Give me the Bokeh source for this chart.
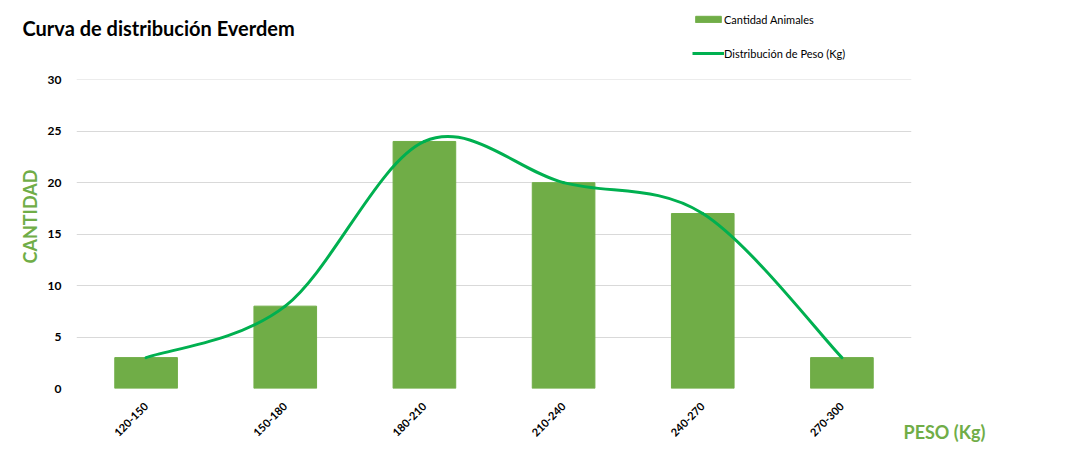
import math
from bokeh.plotting import figure
from bokeh.layouts import column
from bokeh.models import (FactorRange, Range1d, FixedTicker, Title, Legend, LegendItem, Label,
                          ColumnDataSource)
from bokeh.embed import file_html
from bokeh.resources import INLINE

categories = ["120-150", "150-180", "180-210", "210-240", "240-270", "270-300"]
cantidad = [3, 8, 24, 20, 17, 3]
y_ticks = [0, 5, 10, 15, 20, 25, 30]

title_text = "Curva de distribución Everdem"
bar_label = "Cantidad Animales"
line_label = "Distribución de Peso (Kg)"
y_label = "CANTIDAD"
x_label = "PESO (Kg)"

BAR_COLOR = "#70AD47"
LINE_COLOR = "#00B050"
FONT = "Lato"

W = 1078
TOP_H = 69          # header strip (title + legend)
FL, FW, FH = 76, 835, 309
BOT_H = 396
YMAX = 30.02

# ---------------- header: title and legend ----------------
head = figure(x_range=FactorRange(*categories), y_range=Range1d(100, 101),
              width=W, height=TOP_H, output_backend="svg", toolbar_location=None,
              x_axis_location=None, y_axis_location=None, title=None,
              min_border=0)
head.outline_line_color = None
head.grid.visible = False
head.background_fill_color = "white"
head.border_fill_color = "white"
hb = head.vbar(x=categories, top=cantidad, width=0.45, color=BAR_COLOR)
hl = head.line(x=categories, y=cantidad, line_color=LINE_COLOR, line_width=3)

# ---------------- main chart ----------------
p = figure(x_range=FactorRange(*categories, range_padding=0), y_range=Range1d(0, YMAX),
           width=W, height=BOT_H, output_backend="svg", toolbar_location=None, title=None,
           min_border_left=FL, min_border_right=W - FL - FW, min_border_top=10,
           min_border_bottom=BOT_H - 10 - FH)

try:
    head.frame_align = False
    p.frame_align = False
    HEAD_X0 = 0
except Exception:
    HEAD_X0 = FL

head.add_layout(Label(x=22 - HEAD_X0, y=TOP_H - 36 + 9, x_units="screen", y_units="screen",
                      text=title_text,
                      text_font=FONT, text_font_style="bold", text_font_size="20px",
                      text_color="#000000", text_align="left", text_baseline="alphabetic"))
legend = Legend(items=[LegendItem(label=bar_label, renderers=[hb]),
                       LegendItem(label=line_label, renderers=[hl])],
                location=(692 - HEAD_X0, TOP_H - 60), orientation="vertical",
                glyph_width=32, glyph_height=8, label_height=14, spacing=20,
                padding=0, margin=0, label_standoff=0,
                label_text_font=FONT, label_text_font_size="11px", label_text_color="#000000",
                border_line_color=None, background_fill_alpha=0)
head.add_layout(legend, "center")

p.outline_line_color = None
p.background_fill_color = "white"
p.border_fill_color = "white"

bars = p.vbar(x=categories, top=cantidad, width=0.45, color=BAR_COLOR)

# Smoothed line (Excel-like) as Bezier segments computed from the data points
xs = [i + 0.5 for i in range(len(categories))]
n = len(xs)
seg = dict(x0=[], y0=[], x1=[], y1=[], cx0=[], cy0=[], cx1=[], cy1=[])
for i in range(n - 1):
    p0 = (xs[max(i - 1, 0)], cantidad[max(i - 1, 0)])
    p1 = (xs[i], cantidad[i])
    p2 = (xs[i + 1], cantidad[i + 1])
    p3 = (xs[min(i + 2, n - 1)], cantidad[min(i + 2, n - 1)])
    seg["x0"].append(p1[0]); seg["y0"].append(p1[1])
    seg["x1"].append(p2[0]); seg["y1"].append(p2[1])
    seg["cx0"].append(p1[0] + (p2[0] - p0[0]) / 6); seg["cy0"].append(p1[1] + (p2[1] - p0[1]) / 6)
    seg["cx1"].append(p2[0] - (p3[0] - p1[0]) / 6); seg["cy1"].append(p2[1] - (p3[1] - p1[1]) / 6)
src = ColumnDataSource(seg)
p.bezier(x0="x0", y0="y0", x1="x1", y1="y1", cx0="cx0", cy0="cy0", cx1="cx1", cy1="cy1",
         source=src, line_color=LINE_COLOR, line_width=3, line_cap="round")

p.xgrid.grid_line_color = None
p.ygrid.grid_line_color = "#D9D9D9"
p.ygrid.grid_line_width = 1
p.yaxis.ticker = FixedTicker(ticks=y_ticks)
for ax in (p.xaxis[0], p.yaxis[0]):
    ax.axis_line_color = None
    ax.major_tick_line_color = None
    ax.minor_tick_line_color = None
    ax.major_label_text_font = FONT
    ax.major_label_text_font_style = "bold"
    ax.major_label_text_color = "#000000"
p.yaxis.major_label_text_font_size = "12px"
p.yaxis.major_label_standoff = 9
p.xaxis.major_label_text_font_size = "11px"
p.xaxis.major_label_orientation = math.pi / 4
p.xaxis.major_label_standoff = 10

p.add_layout(Title(text=x_label, align="left", offset=827, standoff=-46, vertical_align="top",
                   text_font=FONT, text_font_style="bold", text_font_size="18px",
                   text_color=BAR_COLOR), "below")
p.add_layout(Title(text=y_label, align="left", offset=125, standoff=7,
                   text_font=FONT, text_font_style="bold", text_font_size="18px",
                   text_color=BAR_COLOR), "left")

layout = column(head, p, spacing=0)
open("out.html", "w").write(file_html(layout, INLINE))
